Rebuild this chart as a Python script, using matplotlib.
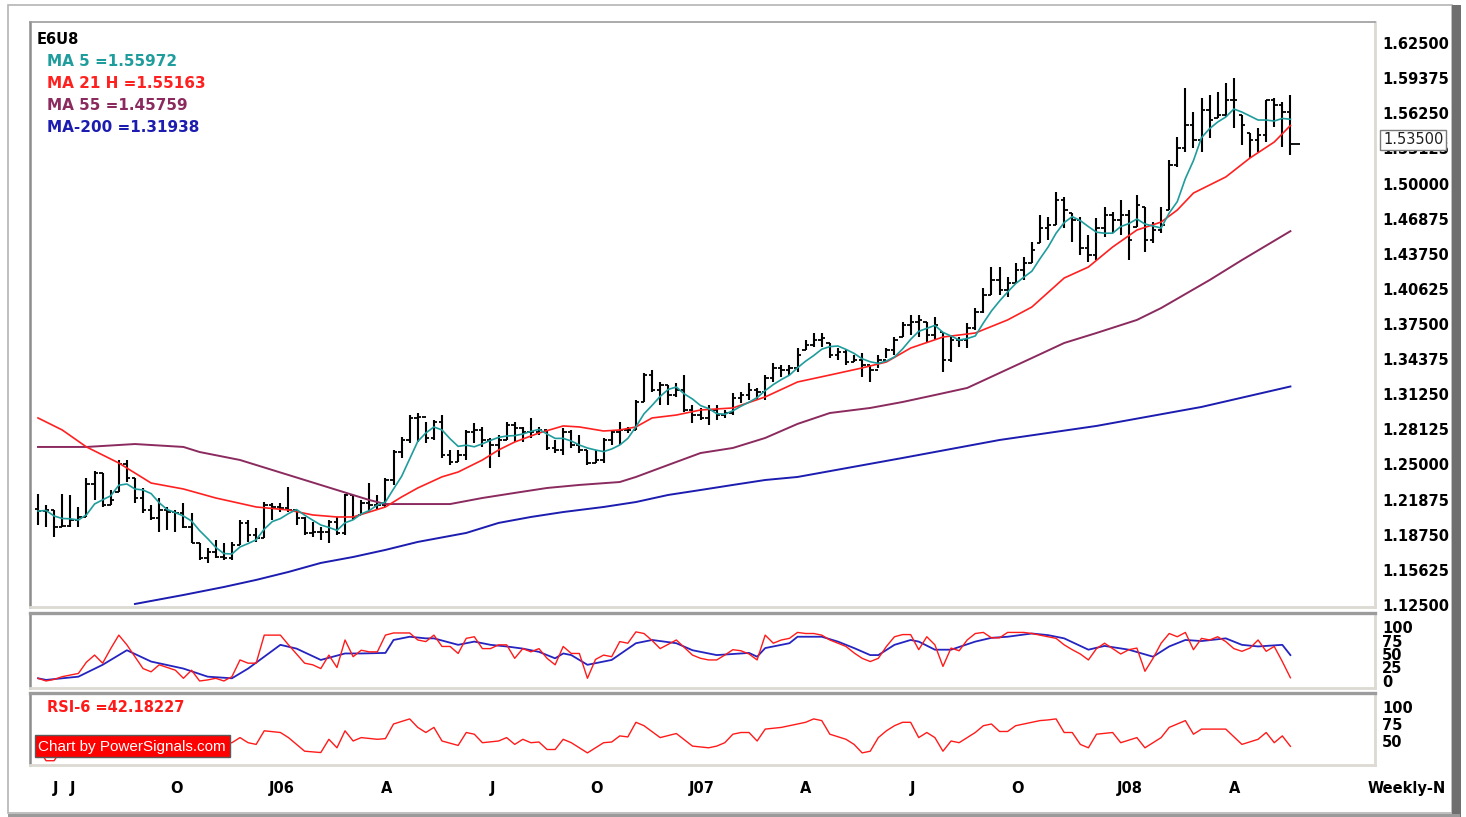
import numpy as np
import pandas as pd
import matplotlib
matplotlib.use('Agg')
import matplotlib.pyplot as plt
from matplotlib.patches import Rectangle

W, H = 1466, 817

# weekly E6U8 bars, mid 2005 -> mid 2008
opens = [1.2100, 1.2086, 1.2095, 1.1944, 1.1953, 1.2006, 1.2033, 1.2326, 1.2424, 1.2140,
         1.2255, 1.2504, 1.2380, 1.2202, 1.2095, 1.2024, 1.2095, 1.2077, 1.2068, 1.1944,
         1.1802, 1.1668, 1.1721, 1.1677, 1.1668, 1.1784, 1.1980, 1.1873, 1.1846, 1.2140,
         1.2122, 1.2113, 1.2095, 1.2024, 1.1891, 1.1899, 1.1899, 1.1988, 1.1891, 1.2229,
         1.2051, 1.2157, 1.2140, 1.2140, 1.2362, 1.2611, 1.2718, 1.2914, 1.2923, 1.2736,
         1.2878, 1.2585, 1.2522, 1.2585, 1.2789, 1.2807, 1.2718, 1.2673, 1.2718, 1.2851,
         1.2825, 1.2789, 1.2789, 1.2807, 1.2647, 1.2629, 1.2789, 1.2673, 1.2629, 1.2513,
         1.2540, 1.2718, 1.2789, 1.2807, 1.2807, 1.3056, 1.3296, 1.3163, 1.3207, 1.3118,
         1.3163, 1.2985, 1.2940, 1.2914, 1.2985, 1.2940, 1.2958, 1.3092, 1.3118, 1.3163,
         1.3145, 1.3270, 1.3359, 1.3341, 1.3359, 1.3519, 1.3563, 1.3608, 1.3581, 1.3474,
         1.3501, 1.3412, 1.3430, 1.3385, 1.3341, 1.3430, 1.3519, 1.3634, 1.3741, 1.3768,
         1.3768, 1.3652, 1.3679, 1.3430, 1.3608, 1.3608, 1.3714, 1.3857, 1.4008, 1.4141,
         1.4052, 1.4115, 1.4230, 1.4293, 1.4471, 1.4604, 1.4631, 1.4853, 1.4738, 1.4675,
         1.4426, 1.4364, 1.4604, 1.4720, 1.4675, 1.4720, 1.4613, 1.4791, 1.4497, 1.4586,
         1.4764, 1.5165, 1.5316, 1.5520, 1.5387, 1.5654, 1.5583, 1.5609, 1.5743, 1.5609,
         1.5449, 1.5387, 1.5431, 1.5743, 1.5698, 1.5636]
highs = [1.2238, 1.2140, 1.2095, 1.2238, 1.2229, 1.2122, 1.2380, 1.2442, 1.2424, 1.2273,
         1.2540, 1.2540, 1.2380, 1.2291, 1.2140, 1.2202, 1.2122, 1.2095, 1.2157, 1.2068,
         1.1802, 1.1757, 1.1828, 1.1802, 1.1810, 1.2006, 1.2006, 1.1935, 1.2166, 1.2157,
         1.2157, 1.2300, 1.2095, 1.2033, 1.1988, 1.1944, 1.2006, 1.2033, 1.2238, 1.2229,
         1.2184, 1.2335, 1.2229, 1.2380, 1.2629, 1.2745, 1.2940, 1.2958, 1.2878, 1.2896,
         1.2940, 1.2629, 1.2629, 1.2807, 1.2869, 1.2834, 1.2736, 1.2762, 1.2878, 1.2878,
         1.2834, 1.2914, 1.2834, 1.2807, 1.2718, 1.2825, 1.2807, 1.2762, 1.2629, 1.2629,
         1.2736, 1.2807, 1.2878, 1.2834, 1.3074, 1.3314, 1.3341, 1.3234, 1.3207, 1.3225,
         1.3296, 1.3029, 1.3003, 1.3029, 1.3029, 1.2985, 1.3136, 1.3145, 1.3225, 1.3181,
         1.3296, 1.3403, 1.3385, 1.3385, 1.3536, 1.3608, 1.3670, 1.3670, 1.3581, 1.3536,
         1.3519, 1.3474, 1.3492, 1.3385, 1.3474, 1.3536, 1.3634, 1.3768, 1.3830, 1.3830,
         1.3768, 1.3812, 1.3679, 1.3652, 1.3634, 1.3759, 1.3892, 1.4070, 1.4257, 1.4257,
         1.4168, 1.4293, 1.4346, 1.4480, 1.4720, 1.4702, 1.4924, 1.4880, 1.4738, 1.4702,
         1.4542, 1.4693, 1.4791, 1.4746, 1.4853, 1.4764, 1.4898, 1.4791, 1.4657, 1.4791,
         1.5209, 1.5414, 1.5850, 1.5636, 1.5761, 1.5787, 1.5814, 1.5894, 1.5939, 1.5609,
         1.5449, 1.5494, 1.5743, 1.5761, 1.5725, 1.5787]
lows = [1.1962, 1.1944, 1.1855, 1.1944, 1.1944, 1.1944, 1.2033, 1.2184, 1.2122, 1.2140,
        1.2255, 1.2344, 1.2157, 1.2068, 1.2006, 1.1899, 1.1917, 1.1899, 1.1935, 1.1802,
        1.1650, 1.1624, 1.1668, 1.1650, 1.1650, 1.1784, 1.1810, 1.1810, 1.1846, 1.2006,
        1.2077, 1.2077, 1.1962, 1.1873, 1.1855, 1.1828, 1.1802, 1.1873, 1.1873, 1.2006,
        1.2051, 1.2077, 1.2095, 1.2122, 1.2318, 1.2558, 1.2691, 1.2700, 1.2691, 1.2718,
        1.2558, 1.2496, 1.2522, 1.2540, 1.2691, 1.2656, 1.2469, 1.2567, 1.2718, 1.2700,
        1.2700, 1.2736, 1.2762, 1.2629, 1.2602, 1.2585, 1.2647, 1.2602, 1.2496, 1.2513,
        1.2513, 1.2673, 1.2673, 1.2780, 1.2807, 1.3056, 1.3145, 1.3029, 1.3029, 1.3101,
        1.2967, 1.2869, 1.2896, 1.2851, 1.2896, 1.2914, 1.2940, 1.3047, 1.3074, 1.3074,
        1.3074, 1.3234, 1.3278, 1.3296, 1.3323, 1.3519, 1.3545, 1.3545, 1.3447, 1.3430,
        1.3385, 1.3412, 1.3278, 1.3234, 1.3359, 1.3447, 1.3474, 1.3634, 1.3652, 1.3634,
        1.3581, 1.3608, 1.3323, 1.3412, 1.3545, 1.3536, 1.3697, 1.3848, 1.4008, 1.4008,
        1.3990, 1.4115, 1.4141, 1.4293, 1.4471, 1.4497, 1.4631, 1.4604, 1.4480, 1.4364,
        1.4302, 1.4319, 1.4524, 1.4560, 1.4542, 1.4319, 1.4613, 1.4391, 1.4471, 1.4560,
        1.4764, 1.5147, 1.5280, 1.5316, 1.5280, 1.5405, 1.5583, 1.5592, 1.5494, 1.5343,
        1.5227, 1.5280, 1.5369, 1.5503, 1.5325, 1.5254]
closes = [1.2086, 1.2095, 1.1944, 1.1953, 1.2006, 1.2033, 1.2326, 1.2424, 1.2140, 1.2184,
          1.2504, 1.2380, 1.2202, 1.2095, 1.2024, 1.2095, 1.2077, 1.2068, 1.1944, 1.1802,
          1.1668, 1.1721, 1.1677, 1.1668, 1.1784, 1.1980, 1.1873, 1.1846, 1.2140, 1.2122,
          1.2113, 1.2095, 1.2024, 1.1891, 1.1899, 1.1899, 1.1988, 1.1891, 1.2229, 1.2033,
          1.2157, 1.2140, 1.2140, 1.2362, 1.2611, 1.2718, 1.2914, 1.2923, 1.2736, 1.2878,
          1.2585, 1.2522, 1.2585, 1.2789, 1.2807, 1.2718, 1.2673, 1.2718, 1.2851, 1.2825,
          1.2789, 1.2789, 1.2807, 1.2647, 1.2629, 1.2789, 1.2673, 1.2629, 1.2513, 1.2540,
          1.2718, 1.2789, 1.2807, 1.2807, 1.3056, 1.3296, 1.3163, 1.3207, 1.3118, 1.3163,
          1.2985, 1.2940, 1.2914, 1.2985, 1.2940, 1.2958, 1.3092, 1.3118, 1.3163, 1.3145,
          1.3270, 1.3359, 1.3341, 1.3359, 1.3474, 1.3563, 1.3608, 1.3625, 1.3474, 1.3501,
          1.3412, 1.3430, 1.3385, 1.3341, 1.3430, 1.3519, 1.3608, 1.3741, 1.3768, 1.3786,
          1.3652, 1.3741, 1.3430, 1.3608, 1.3608, 1.3714, 1.3857, 1.4008, 1.4141, 1.4052,
          1.4115, 1.4230, 1.4293, 1.4408, 1.4604, 1.4631, 1.4853, 1.4764, 1.4675, 1.4426,
          1.4364, 1.4604, 1.4720, 1.4675, 1.4720, 1.4497, 1.4809, 1.4497, 1.4586, 1.4631,
          1.5165, 1.5316, 1.5520, 1.5387, 1.5654, 1.5565, 1.5609, 1.5743, 1.5743, 1.5520,
          1.5387, 1.5431, 1.5743, 1.5698, 1.5636, 1.5350]

# moving averages (week index, value)
ma21_weeks = [0, 3, 6, 10, 14, 18, 22, 27, 31, 34, 37, 39, 41, 43, 45, 47, 50, 52, 55, 57,
              59, 62, 65, 67, 70, 72, 74, 76, 79, 82, 86, 90, 94, 98, 102, 105, 108, 112,
              116, 120, 123, 127, 130, 133, 136, 139, 141, 143, 147, 150, 153, 155]
ma21_vals = [1.2914, 1.2807, 1.2656, 1.2513, 1.2335, 1.2282, 1.2202, 1.2122, 1.2095, 1.2051,
             1.2033, 1.2033, 1.2077, 1.2122, 1.2211, 1.2291, 1.2390, 1.2433, 1.2540, 1.2629,
             1.2700, 1.2780, 1.2843, 1.2834, 1.2798, 1.2807, 1.2834, 1.2914, 1.2940, 1.2985,
             1.3003, 1.3101, 1.3234, 1.3296, 1.3359, 1.3412, 1.3536, 1.3634, 1.3670, 1.3786,
             1.3901, 1.4159, 1.4257, 1.4435, 1.4586, 1.4657, 1.4764, 1.4915, 1.5058, 1.5227,
             1.5369, 1.5516]
ma55_weeks = [0, 6, 12, 18, 20, 25, 29, 33, 37, 41, 43, 51, 55, 59, 63, 67, 72, 74, 78, 82,
              86, 90, 94, 98, 103, 107, 111, 115, 119, 123, 127, 131, 136, 139, 145, 149, 155]
ma55_vals = [1.2656, 1.2656, 1.2682, 1.2656, 1.2611, 1.2540, 1.2451, 1.2362, 1.2273, 1.2184,
             1.2148, 1.2148, 1.2202, 1.2247, 1.2291, 1.2318, 1.2344, 1.2389, 1.2496, 1.2602,
             1.2647, 1.2736, 1.2861, 1.2958, 1.3003, 1.3056, 1.3118, 1.3181, 1.3314, 1.3447,
             1.3581, 1.3670, 1.3786, 1.3892, 1.4141, 1.4319, 1.4576]
ma200_weeks = [12, 18, 23, 27, 31, 35, 39, 43, 47, 53, 57, 61, 65, 70, 74, 78, 82, 86, 90,
               94, 107, 119, 131, 144, 155]
ma200_vals = [1.1259, 1.1339, 1.1410, 1.1473, 1.1544, 1.1624, 1.1677, 1.1740, 1.1811, 1.1891,
              1.1980, 1.2033, 1.2077, 1.2122, 1.2166, 1.2229, 1.2273, 1.2318, 1.2362, 1.2389,
              1.2558, 1.2718, 1.2843, 1.3012, 1.3194]

# stochastics
stoch_k = [5, 0, 3, 8, 11, 14, 35, 48, 33, 60,
           85, 67, 45, 23, 17, 30, 25, 20, 5, 20,
           0, 2, 5, 0, 8, 39, 33, 33, 85, 85,
           85, 67, 50, 33, 30, 23, 48, 25, 76, 45,
           57, 54, 54, 85, 89, 89, 89, 76, 73, 85,
           64, 64, 51, 79, 82, 60, 60, 67, 67, 42,
           60, 54, 60, 42, 30, 64, 51, 51, 5, 40,
           48, 45, 73, 70, 91, 88, 75, 60, 68, 76,
           62, 48, 42, 39, 39, 48, 58, 56, 50, 39,
           85, 70, 76, 79, 90, 88, 88, 85, 76, 70,
           64, 52, 42, 36, 42, 64, 82, 86, 86, 58,
           82, 67, 27, 61, 56, 76, 88, 90, 80, 80,
           90, 90, 90, 88, 85, 82, 79, 67, 58, 50,
           39, 60, 70, 60, 50, 58, 61, 18, 42, 70,
           88, 82, 90, 58, 79, 76, 82, 73, 60, 55,
           61, 76, 55, 64, 36, 6]
stoch_d_weeks = [0, 1, 5, 8, 9, 11, 14, 18, 21, 24, 26, 28, 30, 32, 35, 38, 40, 43, 44, 46,
                 48, 49, 52, 54, 56, 58, 60, 62, 64, 65, 66, 68, 71, 74, 76, 79, 81, 84, 86,
                 88, 89, 90, 93, 94, 97, 99, 101, 103, 104, 106, 108, 109, 111, 113, 116,
                 118, 120, 123, 125, 127, 130, 132, 135, 138, 140, 142, 144, 147, 149, 151,
                 154, 155]
stoch_d_vals = [5, 2, 8, 30, 39, 57, 36, 23, 8, 5, 23, 45, 67, 60, 39, 51, 51, 52, 76, 82,
                79, 79, 67, 73, 67, 64, 60, 54, 42, 51, 48, 30, 39, 70, 76, 70, 57, 48, 50,
                52, 45, 61, 70, 82, 82, 73, 61, 48, 48, 67, 76, 73, 58, 58, 73,
                80, 82, 88, 85, 79, 58, 65, 58, 45, 64, 76, 74, 79, 67, 64,
                67, 48]

# RSI-6 (left part hidden under the credit box)
rsi_weeks = [0, 1, 2, 3, 24, 25, 26, 27, 28, 30, 31, 33, 35, 36, 37, 38, 39, 40, 42, 43,
             44, 46, 47, 48, 49, 50, 52, 53, 54, 55, 57, 58, 59, 60, 61, 62, 63, 64, 65, 66,
             68, 70, 71, 72, 73, 74, 75, 77, 79, 81, 83, 84, 85, 86, 87, 88, 89, 90, 92, 93,
             95, 96, 97, 98, 100, 101, 102, 103, 104, 105, 106, 107, 108, 109, 110, 111, 112,
             113, 114, 115, 116, 117, 118, 119, 120, 121, 122, 124, 125, 126, 127, 128, 129,
             130, 131, 133, 134, 136, 137, 138, 139, 140, 142, 143, 144, 146, 147, 149, 151,
             152, 153, 154, 155]
rsi_vals = [40, 21, 21, 40, 47.5, 55, 47.5, 45, 65, 62.5, 55, 35, 33, 52.5, 40, 65, 50, 55,
            52.5, 53.5, 75, 82.5, 70, 62.5, 70, 50, 43.5, 62.5, 60, 47.5, 50, 55, 45, 52.5,
            47.5, 48.5, 37.5, 37.5, 52.5, 47.5, 32.5, 47.5, 48.5, 57.5, 56, 77.5, 72.5, 55,
            61, 42.5, 40, 42.5, 47.5, 60, 62.5, 62.5, 50, 67.5, 70, 72.5, 77.5, 82.5, 80, 60,
            52.5, 45, 32.5, 35, 55, 65, 72.5, 77.5, 77.5, 55, 62.5, 55, 35, 50, 47.5, 55,
            62.5, 72.5, 75, 64, 64, 72.5, 75, 80, 81, 82.5, 62.5, 62.5, 45, 40, 60, 62.5,
            47.5, 55, 40, 47.5, 55, 70, 80, 60, 67.5, 67.5, 67.5, 45, 52.5, 62.5, 47.5, 57.5,
            42.18]

price_ticks = [1.125, 1.15625, 1.1875, 1.21875, 1.25, 1.28125, 1.3125, 1.34375, 1.375,
               1.40625, 1.4375, 1.46875, 1.5, 1.53125, 1.5625, 1.59375, 1.625]
stoch_ticks = [0, 25, 50, 75, 100]
rsi_ticks = [50, 75, 100]
month_labels = ['J', 'J', 'O', 'J06', 'A', 'J', 'O', 'J07', 'A', 'J', 'O', 'J08', 'A']
month_weeks = [2.2, 4.3, 17.1, 30.2, 43.2, 56.2, 69.1, 82.2, 95.0, 108.2, 121.2, 135.1, 148.1]

C_MA5, C_MA21, C_MA55, C_MA200 = '#1f9c9c', '#ff2020', '#8b2a5e', '#1c1cb0'
FS = 10.5

fig = plt.figure(figsize=(W / 100, H / 100), dpi=100)
fig.patch.set_facecolor('white')


def panel(top, bottom):
    return [30 / W, 1 - bottom / H, 1345 / W, (bottom - top) / H]


def style(ax, ticks, labels, top_lw=1.2):
    ax.set_xlim(-0.99, 165.47)
    ax.set_xticks([])
    ax.spines['top'].set_color('#9c9c9c')
    ax.spines['top'].set_linewidth(top_lw)
    ax.spines['left'].set_color('#8c8c8c')
    ax.spines['left'].set_linewidth(1.8)
    for s in ('bottom', 'right'):
        ax.spines[s].set_color('#dcdad2')
        ax.spines[s].set_linewidth(2)
    ax.yaxis.tick_right()
    ax.set_yticks(ticks, labels, fontweight='bold', fontsize=FS)
    ax.tick_params(axis='y', length=0, pad=5)


def ftext(x, y, s, **kw):
    kw.setdefault('va', 'center')
    kw.setdefault('fontweight', 'bold')
    kw.setdefault('fontsize', FS)
    return fig.text(x / W, 1 - y / H, s, **kw)


# --- price panel ---
ax = fig.add_axes(panel(22, 607))
style(ax, price_ticks, ['%.5f' % t for t in price_ticks])
ax.set_ylim(1.1232, 1.6437)

wk = np.arange(len(closes))
ax.vlines(wk, lows, highs, color='black', lw=1.5, zorder=2)
ax.hlines(opens, wk - 0.42, wk, color='black', lw=1.3, zorder=2)
ax.hlines(closes[:-1], wk[:-1], wk[:-1] + 0.42, color='black', lw=1.3, zorder=2)
ax.hlines(closes[-1], wk[-1], wk[-1] + 1.2, color='black', lw=1.3, zorder=2)

ma5 = pd.Series(closes).rolling(5, min_periods=1).mean()
ax.plot(ma200_weeks, ma200_vals, color=C_MA200, lw=1.4, zorder=3)
ax.plot(ma55_weeks, ma55_vals, color=C_MA55, lw=1.4, zorder=3)
ax.plot(ma21_weeks, ma21_vals, color=C_MA21, lw=1.2, zorder=3)
ax.plot(wk, ma5, color=C_MA5, lw=1.2, zorder=3)

ftext(37, 39, 'E6U8', color='black')
ftext(47, 61, 'MA 5 =1.55972', color=C_MA5, fontsize=11)
ftext(47, 83, 'MA 21 H =1.55163', color=C_MA21, fontsize=11)
ftext(47, 105, 'MA 55 =1.45759', color=C_MA55, fontsize=11)
ftext(47, 128, 'MA-200 =1.31938', color=C_MA200, fontsize=11)

# last price box, drawn over the 1.53125 axis label as in the original
ftext(1383, 140, '1.53500', fontweight='normal', color='#202020', zorder=6,
      bbox=dict(boxstyle='square,pad=0.18', facecolor='white', edgecolor='#7a7a7a', lw=1))

# --- stochastics panel ---
ax_st = fig.add_axes(panel(613, 688))
style(ax_st, stoch_ticks, [str(t) for t in stoch_ticks], top_lw=2.4)
ax_st.set_ylim(-13, 126)
ax_st.plot(stoch_d_weeks, stoch_d_vals, color='#2424c0', lw=1.3)
ax_st.plot(wk, stoch_k, color='#ff1a1a', lw=1.0)

# --- RSI panel ---
ax_rsi = fig.add_axes(panel(693, 765))
style(ax_rsi, rsi_ticks, [str(t) for t in rsi_ticks], top_lw=2.4)
ax_rsi.set_ylim(14.7, 120.6)
ax_rsi.plot(rsi_weeks, rsi_vals, color='#ff1a1a', lw=1.0)
ftext(47, 707, 'RSI-6 =42.18227', color='#ff1a1a')

fig.add_artist(Rectangle((35 / W, 1 - 757 / H), 195 / W, 22 / H, transform=fig.transFigure,
                         facecolor='#ff0000', edgecolor='#5a5a5a', lw=1, zorder=5))
ftext(38, 746.5, 'Chart by PowerSignals.com', color='white', fontweight='normal',
      fontsize=11, family='Liberation Sans', zorder=6)

# month labels under the panels
for w, lab in zip(month_weeks, month_labels):
    ax_rsi.text(w, -0.333, lab, transform=ax_rsi.get_xaxis_transform(), ha='center',
                va='center', fontweight='bold', fontsize=FS, clip_on=False)
ftext(1368, 789, 'Weekly-N', ha='left')

# outer frame with dark shadow on the right
fig.add_artist(Rectangle((8 / W, 4 / H), 1444 / W, 808 / H, transform=fig.transFigure,
                         facecolor='none', edgecolor='#b4b4b4', lw=1.2, zorder=9))
fig.add_artist(Rectangle((1452 / W, 0), 9 / W, 812 / H, transform=fig.transFigure,
                         facecolor='#6f6f6f', edgecolor='none', zorder=10))
fig.add_artist(Rectangle((8 / W, 0), 1452 / W, 3 / H, transform=fig.transFigure,
                         facecolor='#9a9a9a', edgecolor='none', zorder=10))

fig.savefig('out.png', dpi=100)
